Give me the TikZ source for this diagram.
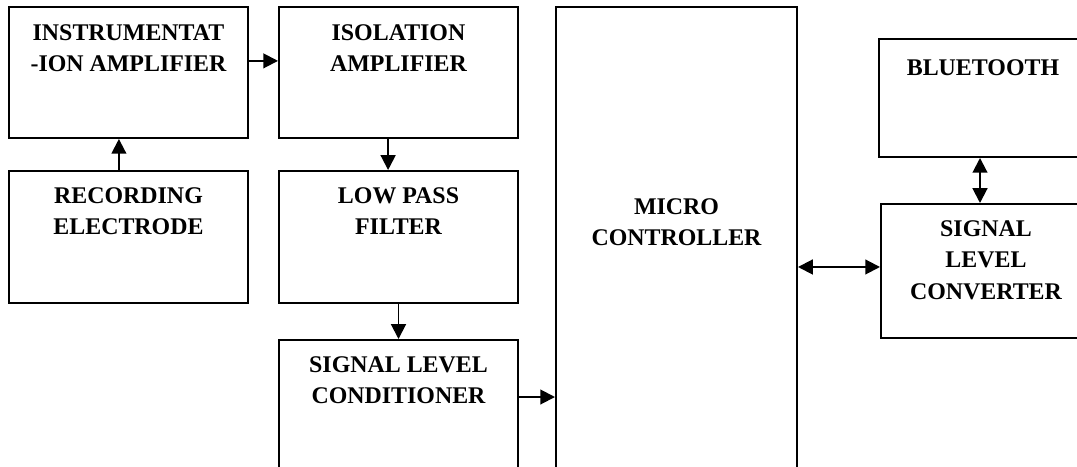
\documentclass[tikz,border=0pt]{standalone}
\usepackage{fontspec}
\setmainfont{Liberation Serif}
\usetikzlibrary{arrows.meta}
\tikzset{
    box/.style={draw, line width=1.4pt, minimum width=5.975cm, inner sep=0pt},
    blocktext/.style={anchor=north, inner sep=0pt, align=center,
                      font=\fontsize{17}{22.4}\selectfont\bfseries},
    flow/.style={-{Triangle[length=10.5pt, width=10.5pt]}, line width=1.4pt},
    duplex/.style={flow, {Triangle[length=10.5pt, width=10.5pt]}-{Triangle[length=10.5pt, width=10.5pt]}},
}

\begin{document}
\begin{tikzpicture}

    \path[use as bounding box, clip] (0,0) rectangle (26.925,11.675);

    \node[box, minimum height=3.275cm] (inamp) at (3.2125,9.8625) {};
    \node[blocktext] (inamptxt) at ([yshift=-0.45cm]inamp.north) {INSTRUMENTAT\\-ION AMPLIFIER};
    \node[box, minimum height=3.275cm] (isoamp) at (9.9625,9.8625) {};
    \node[blocktext] (isoamptxt) at ([yshift=-0.45cm]isoamp.north) {ISOLATION\\AMPLIFIER};
    \node[box, minimum height=3.3cm] (recel) at (3.2125,5.75) {};
    \node[blocktext] (receltxt) at ([yshift=-0.425cm]recel.north) {RECORDING\\ELECTRODE};
    \node[box, minimum height=3.3cm] (lpf) at (9.9625,5.75) {};
    \node[blocktext] (lpftxt) at ([yshift=-0.425cm]lpf.north) {LOW PASS\\FILTER};
    \node[box, minimum height=4.5cm] (slcond) at (9.9625,0.925) {};
    \node[blocktext] (slcondtxt) at ([yshift=-0.425cm]slcond.north) {SIGNAL LEVEL\\CONDITIONER};
    \node[box, minimum width=6.025cm, minimum height=12.825cm] (mcu) at (16.9125,5.0875) {};
    \node[blocktext] (mcutxt) at ([yshift=-4.8cm]mcu.north) {MICRO\\CONTROLLER};
    \node[box, minimum width=5.2cm, minimum height=2.95cm] (bt) at (24.575,9.225) {};
    \node[blocktext] (bttxt) at ([yshift=-0.525cm]bt.north) {BLUETOOTH};
    \node[box, minimum width=5.25cm, minimum height=3.35cm] (slconv) at (24.65,4.9) {};
    \node[blocktext] (slconvtxt) at ([yshift=-0.425cm]slconv.north) {SIGNAL\\LEVEL\\CONVERTER};

    \coordinate (toiso) at ([yshift=0.29cm]inamp.east);
    \coordinate (tolpf) at ([xshift=-0.26cm]isoamp.south);
    \coordinate (toinamp) at ([xshift=-0.24cm]recel.north);
    \coordinate (tomcu) at ([yshift=-1.45cm]slcond.north east);
    \coordinate (toconv) at ([yshift=0.1cm]slconv.west);
    \coordinate (tobt) at ([xshift=-0.075cm]bt.south);

    \draw[flow] (toiso) -- (toiso -| isoamp.west);
    \draw[flow] (tolpf) -- (tolpf |- lpf.north);
    \draw[flow] (toinamp) -- (toinamp |- inamp.south);
    \draw[flow] (lpf) -- (slcond);
    \draw[flow] (tomcu) -- (tomcu -| mcu.west);
    \draw[duplex] (toconv -| mcu.east) -- (toconv);
    \draw[duplex] (tobt) -- (tobt |- slconv.north);

\end{tikzpicture}
\end{document}
